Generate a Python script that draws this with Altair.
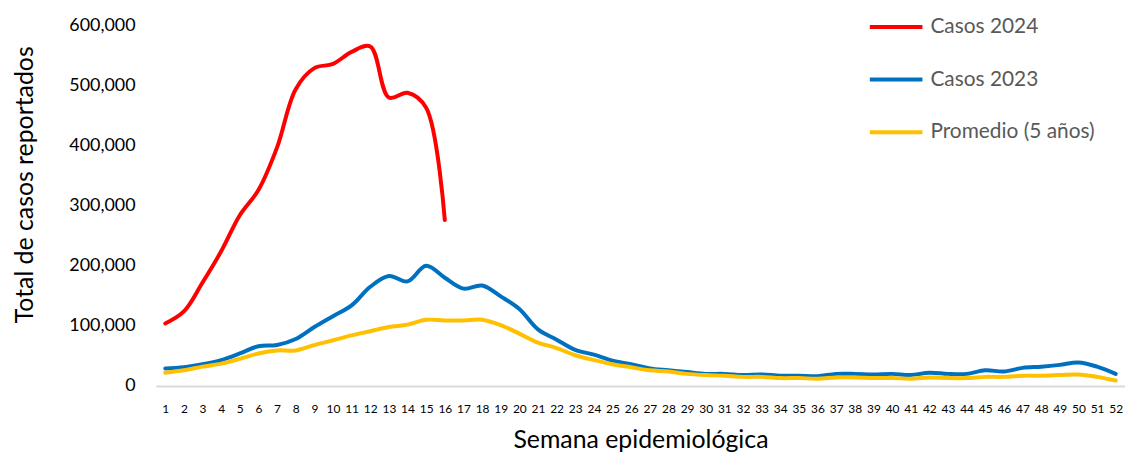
import altair as alt
import pandas as pd

weeks = list(range(1, 53))

casos_2024 = [104000, 124000, 172000, 224000, 284000, 326000, 397000, 494000,
              529000, 536000, 556000, 565000, 480000, 488000, 463000, 276000]

casos_2023 = [29000, 31000, 36000, 43000, 54000, 66000, 68000, 78000, 98000, 116000,
              134000, 165000, 183000, 174000, 200000, 180000, 162000, 167000, 149000, 128000,
              94000, 77000, 60000, 52000, 42000, 36000, 29000, 26000, 23000, 20000,
              20000, 18000, 19000, 17000, 17000, 16000, 20000, 20000, 19000, 20000,
              18000, 22000, 20000, 20000, 26000, 24000, 30000, 32000, 35000, 39000,
              32000, 20000]

promedio = [22000, 26000, 32000, 37000, 45000, 54000, 59000, 59000, 68000, 76000,
            84000, 91000, 98000, 102000, 110000, 109000, 109000, 110000, 101000, 87000,
            72000, 63000, 51000, 43000, 36000, 31000, 26000, 24000, 20000, 18000,
            17000, 15000, 15000, 13000, 13000, 12000, 14000, 14000, 13000, 13000,
            12000, 14000, 13000, 13000, 15000, 15000, 17000, 17000, 18000, 19000,
            15000, 9000]

y_ticks = [0, 100000, 200000, 300000, 400000, 500000, 600000]

series_names = ["Casos 2024", "Casos 2023", "Promedio (5 años)"]
series_colors = ["#FF0000", "#0070C0", "#FFC000"]

rows = []
for name, vals in zip(series_names, [casos_2024, casos_2023, promedio]):
    for w, v in zip(weeks, vals):
        rows.append({"semana": w, "casos": v, "serie": name})
df = pd.DataFrame(rows)

FONT = "Lato"

chart = alt.Chart(df).mark_line(
    interpolate="catmull-rom", strokeWidth=4, strokeCap="round"
).encode(
    x=alt.X("semana:O", sort=weeks,
            scale=alt.Scale(type="point", padding=0.5),
            axis=alt.Axis(title="Semana epidemiológica", labelAngle=0, ticks=False,
                          labelFontSize=12, labelColor="#000000", labelPadding=18,
                          domainColor="#D9D9D9", domainWidth=2, grid=False,
                          titleFontSize=25, titleFontWeight="normal", titleColor="#000000",
                          titleX=488, titleY=62, titleBaseline="alphabetic",
                          titleAlign="center", labelFont=FONT, titleFont=FONT)),
    y=alt.Y("casos:Q",
            scale=alt.Scale(domain=[0, 600000], nice=False),
            axis=alt.Axis(title="Total de casos reportados", format=",.0f", values=y_ticks,
                          ticks=False, domain=False, grid=False,
                          labelFontSize=18, labelColor="#000000", labelPadding=21,
                          titleFontSize=25, titleFontWeight="normal", titleColor="#000000",
                          titleAngle=270, titleX=-124, titleY=160, titleAlign="center",
                          titleBaseline="alphabetic", labelFont=FONT, titleFont=FONT)),
    color=alt.Color("serie:N",
                    scale=alt.Scale(domain=series_names, range=series_colors),
                    legend=alt.Legend(title=None, orient="none", legendX=717, legendY=-27,
                                      symbolType="stroke", symbolSize=2809,
                                      symbolStrokeWidth=4, labelFontSize=21,
                                      labelColor="#595959", labelFont=FONT,
                                      labelLimit=400, labelOffset=6, rowPadding=14)),
).properties(
    width=976, height=363,
    autosize=alt.AutoSizeParams(type="none"),
    padding={"left": 149, "top": 16, "right": 0, "bottom": 67},
).configure_view(stroke=None)

chart.save("out.html", embed_options={"renderer": "svg", "actions": False})
